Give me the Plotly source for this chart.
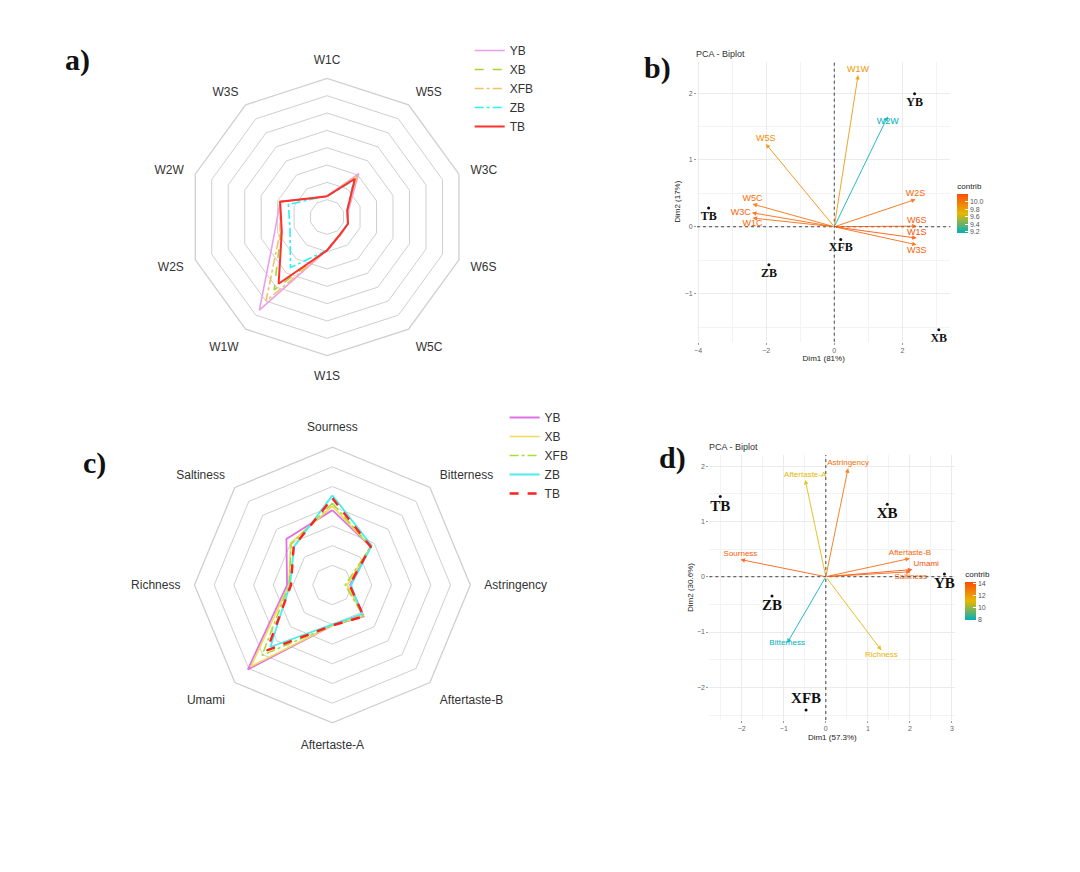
import plotly.graph_objects as go
from plotly.colors import sample_colorscale

W, H = 1080, 872

# ---------------- data ----------------
# a) e-nose radar
sensors = ["W1C", "W5S", "W3C", "W6S", "W5C", "W1S", "W1W", "W2S", "W2W", "W3S"]
a_YB = [1.2, 3.1, 1.3, 1.25, 1.3, 1.9, 6.65, 3.2, 2.85, 1.35]
a_XB = [1.2, 2.9, 1.25, 1.25, 1.3, 1.9, 5.2, 2.8, 2.85, 1.35]
a_XFB = [1.2, 2.95, 1.25, 1.25, 1.3, 1.9, 6.0, 2.85, 2.85, 1.35]
a_ZB = [1.2, 2.62, 1.2, 1.25, 1.25, 1.92, 3.6, 2.25, 2.35, 1.3]
a_TB = [1.2, 2.73, 1.22, 1.27, 1.25, 1.93, 4.76, 2.75, 2.85, 1.36]

# c) e-tongue radar
tastes = ["Sourness", "Bitterness", "Astringency", "Aftertaste-B",
          "Aftertaste-A", "Umami", "Richness", "Saltiness"]
c_YB = [3.8, 2.75, 0.9, 2.25, 2.05, 6.07, 2.3, 3.3]
c_XB = [4.0, 2.75, 0.75, 2.2, 2.05, 5.85, 2.2, 3.0]
c_XFB = [4.15, 2.75, 0.65, 2.2, 2.05, 5.05, 2.2, 2.95]
c_ZB = [4.55, 2.82, 0.95, 2.1, 2.0, 4.45, 2.15, 2.75]
c_TB = [4.4, 2.75, 0.87, 2.25, 2.05, 4.7, 2.1, 2.78]

samples = ["YB", "XB", "XFB", "ZB", "TB"]

# b) PCA biplot (e-nose)
b_ind = ["YB", "TB", "ZB", "XFB", "XB"]
b_ind_x = [2.36, -3.69, -1.92, 0.19, 3.07]
b_ind_y = [1.99, 0.28, -0.57, -0.19, -1.54]
b_var = ["W1W", "W2W", "W5S", "W2S", "W6S", "W1S", "W3S", "W5C", "W3C", "W1C"]
b_var_x = [0.70, 1.57, -2.01, 2.39, 2.42, 2.42, 2.42, -2.40, -2.42, -2.40]
b_var_y = [2.27, 1.65, 1.24, 0.41, 0.01, -0.17, -0.27, 0.34, 0.21, 0.13]
b_contrib = [9.85, 9.17, 9.9, 10.08, 10.12, 10.2, 10.1, 10.05, 10.1, 10.08]

# d) PCA biplot (e-tongue)
d_ind = ["TB", "XB", "YB", "ZB", "XFB"]
d_ind_x = [-2.51, 1.46, 2.82, -1.28, -0.47]
d_ind_y = [1.45, 1.31, 0.05, -0.35, -2.41]
d_var = ["Astringency", "Aftertaste-A", "Sourness", "Aftertaste-B",
         "Umami", "Saltiness", "Bitterness", "Richness"]
d_var_x = [0.53, -0.49, -2.03, 2.0, 2.06, 2.02, -0.92, 1.32]
d_var_y = [1.96, 1.75, 0.31, 0.33, 0.13, 0.09, -1.2, -1.33]
d_contrib = [13.2, 11.0, 13.8, 13.5, 14.2, 13.6, 7.9, 11.2]

# ---------------- styles ----------------
a_colors = ["#EC9EEC", "#A8D23A", "#F2C06A", "#2EF2F2", "#FF3030"]
a_dash = ["solid", "dash", "dashdot", "dashdot", "solid"]
a_width = [1.6, 1.6, 1.6, 1.6, 2.0]
c_colors = ["#DF70E6", "#EEDD55", "#A8DD38", "#4CECEC", "#FF2020"]
c_dash = ["solid", "solid", "dashdot", "solid", "dash"]
c_width = [1.8, 1.6, 1.6, 1.8, 2.4]

cscale = [[0, "#00AFBB"], [0.5, "#E7B800"], [1, "#FC4E07"]]
GRID = "#cfcfcf"
SANS = "Liberation Sans, Arial, sans-serif"
SERIF = "Liberation Serif, Times New Roman, serif"

fig = go.Figure()

def close(seq):
    return list(seq) + [seq[0]]

for name, vals, col, dsh, wd in zip(samples, [a_YB, a_XB, a_XFB, a_ZB, a_TB],
                                    a_colors, a_dash, a_width):
    fig.add_trace(go.Scatterpolar(r=close(vals), theta=close(sensors), name=name,
                                  mode="lines", line=dict(color=col, dash=dsh, width=wd),
                                  subplot="polar", legend="legend"))

for name, vals, col, dsh, wd in zip(samples, [c_YB, c_XB, c_XFB, c_ZB, c_TB],
                                    c_colors, c_dash, c_width):
    fig.add_trace(go.Scatterpolar(r=close(vals), theta=close(tastes), name=name,
                                  mode="lines", line=dict(color=col, dash=dsh, width=wd),
                                  subplot="polar2", legend="legend2"))

def arrow_colors(vals):
    lo, hi = min(vals), max(vals)
    return sample_colorscale(cscale, [(v - lo) / (hi - lo) for v in vals])

annotations = []
shapes = []

def biplot(xa, ya, ind, ix, iy, var, vx, vy, contrib, var_pos, ind_pos,
           ind_size, var_size, cb):
    cols = arrow_colors(contrib)
    for x, y, c in zip(vx, vy, cols):
        annotations.append(dict(x=x, y=y, ax=0, ay=0, xref=xa, yref=ya,
                                axref=xa, ayref=ya, text="", showarrow=True,
                                arrowhead=2, arrowsize=0.9, arrowwidth=1,
                                arrowcolor=c, opacity=0.85))
    fig.add_trace(go.Scatter(x=vx, y=vy, mode="markers+text", text=var,
                             textposition=var_pos,
                             textfont=dict(family=SANS, size=var_size, color=cols),
                             marker=dict(size=0.1, color=contrib, colorscale=cscale,
                                         cmin=min(contrib), cmax=max(contrib),
                                         showscale=True, colorbar=cb),
                             xaxis=xa, yaxis=ya, showlegend=False, hoverinfo="skip"))
    fig.add_trace(go.Scatter(x=ix, y=iy, mode="markers+text",
                             text=["<b>" + t + "</b>" for t in ind],
                             textposition=ind_pos,
                             textfont=dict(family=SERIF, size=ind_size, color="#111111"),
                             marker=dict(size=3, color="#111111"),
                             xaxis=xa, yaxis=ya, showlegend=False, hoverinfo="skip"))
    shapes.append(dict(type="line", xref=xa, yref=ya + " domain", x0=0, x1=0, y0=0, y1=1,
                       line=dict(color="#444444", width=1, dash="dot"), layer="above"))
    shapes.append(dict(type="line", xref=xa + " domain", yref=ya, x0=0, x1=1, y0=0, y1=0,
                       line=dict(color="#444444", width=1, dash="dot"), layer="above"))

cb_b = dict(title=dict(text="contrib", side="top", font=dict(size=8, family=SANS, color="#222")),
            x=957 / W, xanchor="left", y=1 - 206.5 / H, yanchor="middle",
            len=53 / H, lenmode="fraction", thickness=11, xpad=0, ypad=0,
            outlinewidth=0, tickvals=[9.2, 9.4, 9.6, 9.8, 10.0],
            ticktext=["9.2", "9.4", "9.6", "9.8", "10.0"],
            tickfont=dict(size=7, family=SANS, color="#555"), ticks="inside",
            ticklen=3, tickcolor="white")
cb_d = dict(title=dict(text="contrib", side="top", font=dict(size=8, family=SANS, color="#222")),
            x=965 / W, xanchor="left", y=1 - 594 / H, yanchor="middle",
            len=52 / H, lenmode="fraction", thickness=11, xpad=0, ypad=0,
            outlinewidth=0, tickvals=[8, 10, 12, 14],
            tickfont=dict(size=7, family=SANS, color="#555"), ticks="inside",
            ticklen=3, tickcolor="white")

biplot("x", "y", b_ind, b_ind_x, b_ind_y, b_var, b_var_x, b_var_y, b_contrib,
       ["top center", "bottom center", "top center", "top center", "top center",
        "top center", "bottom center", "top center", "middle left", "bottom center"],
       "bottom center", 12, 9, cb_b)
biplot("x2", "y2", d_ind, d_ind_x, d_ind_y, d_var, d_var_x, d_var_y, d_contrib,
       ["top center", "top center", "top center", "top center", "top right",
        "bottom center", "middle center", "bottom center"],
       ["bottom center", "bottom center", "bottom center", "bottom center", "top center"],
       15, 8, cb_d)

# panel letters and titles
for txt, px, py in [("a)", 75, 60), ("b)", 656, 68), ("c)", 92, 463), ("d)", 671, 458)]:
    annotations.append(dict(text="<b>" + txt + "</b>", x=px / W, y=1 - py / H,
                            xref="paper", yref="paper", showarrow=False,
                            xanchor="center", yanchor="middle",
                            font=dict(family=SERIF, size=30, color="#111")))
for px, py in [(693, 54), (706, 447)]:
    annotations.append(dict(text="PCA - Biplot", x=px / W, y=1 - py / H, xref="paper",
                            yref="paper", showarrow=False, xanchor="left", yanchor="middle",
                            font=dict(family=SANS, size=9, color="#333")))


def polar_layout(domx, domy, rmax, tlen):
    return dict(domain=dict(x=domx, y=domy), bgcolor="white", gridshape="linear",
                angularaxis=dict(rotation=90, direction="clockwise", showgrid=False,
                                 linecolor=GRID, linewidth=1.3, ticks="outside",
                                 ticklen=tlen, tickcolor="rgba(0,0,0,0)",
                                 tickfont=dict(family=SANS, size=12, color="#333")),
                radialaxis=dict(range=[0, rmax], dtick=1, showline=False,
                                showticklabels=False, ticks="", gridcolor=GRID,
                                gridwidth=1.3))

def pca_axes(domx, domy, rng_x, rng_y, dx_major, dx_minor, title_x, title_y):
    common = dict(showline=False, zeroline=False, ticks="outside", ticklen=2,
                  tickcolor="#999", tickfont=dict(family=SANS, size=7, color="#666"),
                  gridcolor="#ebebeb", gridwidth=1)
    xa = dict(common, domain=domx, range=rng_x, dtick=dx_major,
              minor=dict(dtick=dx_minor, showgrid=True, gridcolor="#f3f3f3", gridwidth=0.6),
              title=dict(text=title_x, font=dict(family=SANS, size=8, color="#222"),
                         standoff=2))
    ya = dict(common, domain=domy, range=rng_y, dtick=1,
              minor=dict(dtick=0.5, showgrid=True, gridcolor="#f3f3f3", gridwidth=0.6),
              title=dict(text=title_y, font=dict(family=SANS, size=8, color="#222"),
                         standoff=2))
    return xa, ya

xa1, ya1 = pca_axes([696 / W, 950 / W], [1 - 341.7 / H, 1 - 61.7 / H],
                    [-4.03, 3.41], [-1.72, 2.47], 2, 1, "Dim1 (81%)", "Dim2 (17%)")
xa2, ya2 = pca_axes([708.3 / W, 955 / W], [1 - 720 / H, 1 - 455 / H],
                    [-2.77, 3.08], [-2.59, 2.2], 1, 0.5, "Dim1 (57.3%)", "Dim2 (30.6%)")
ya1["anchor"] = "x"
xa1["anchor"] = "y"
xa2["anchor"] = "y2"
ya2["anchor"] = "x2"

legend_common = dict(xanchor="left", yanchor="top", bgcolor="rgba(0,0,0,0)",
                     font=dict(family=SANS, size=12, color="#333"), tracegroupgap=0)

fig.update_layout(
    width=W, height=H, margin=dict(l=0, r=0, t=0, b=0),
    paper_bgcolor="white", plot_bgcolor="white",
    polar=polar_layout([186 / W, 464 / W], [1 - 356 / H, 1 - 78 / H], 8, 9),
    polar2=polar_layout([192 / W, 468.6 / W], [1 - 723.3 / H, 1 - 446.7 / H], 7, 11),
    xaxis=xa1, yaxis=ya1, xaxis2=xa2, yaxis2=ya2,
    legend=dict(legend_common, x=468 / W, y=1 - 36 / H),
    legend2=dict(legend_common, x=503 / W, y=1 - 403 / H),
    annotations=annotations, shapes=shapes,
)

fig.write_html("out.html", config={"displayModeBar": False},
               post_script="document.body.style.margin='0';document.body.style.padding='0';")
